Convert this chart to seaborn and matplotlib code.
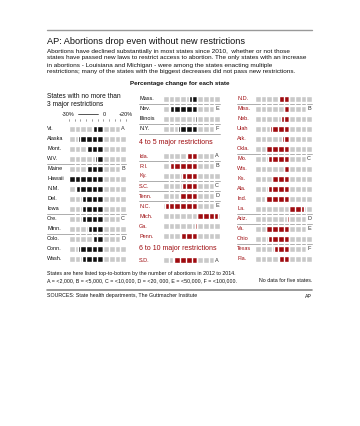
import numpy as np
import pandas as pd
import matplotlib
matplotlib.use("Agg")
import matplotlib.pyplot as plt
import seaborn as sns

# ------------------------------------------------------------
# DATA  (percent change in abortions, 2010 -> 2014)
# ------------------------------------------------------------
low_states = ["Vt.", "Alaska", "Mont.", "W.V.", "Maine", "Hawaii", "N.M.", "Del.",
              "Iowa", "Ore.", "Minn.", "Colo.", "Conn.", "Wash."]
low_change = [-9, -22, -14, -7, -14, -30, -24, -19, -19, -19, -13, -9, -22, -19]
low_group = ["A", "", "", "", "B", "", "", "", "", "C", "", "D", "", ""]

low2_states = ["Mass.", "Nev.", "Illinois", "N.Y."]
low2_change = [-7, -24, -2, -17]
low2_group = ["", "E", "", "F"]

mid_states = ["Ida.", "R.I.", "Ky.", "S.C.", "Tenn.", "N.C.", "Mich.", "Ga.", "Penn."]
mid_change = [-9, -24, -13, -13, -16, -28, 18, -2, -14]
mid_group = ["A", "B", "", "C", "D", "E", "", "", ""]

sd_states = ["S.D."]
sd_change = [-21]
sd_group = ["A"]

high_states = ["N.D.", "Miss.", "Neb.", "Utah", "Ark.", "Okla.", "Mo.", "Wis.", "Ks.",
               "Ala.", "Ind.", "La.", "Ariz.", "Va.", "Ohio", "Texas", "Fla."]
high_change = [-9, -5, -7, -17, -6, -20, -19, -5, -15, -19, -21, 13, -2, -20, -19, -13, -9]
high_group = ["", "B", "", "", "", "", "C", "", "", "", "", "", "D", "E", "", "F", ""]

# ------------------------------------------------------------
# STYLE
# ------------------------------------------------------------
sns.set_theme(style="white")
plt.rcParams['font.family'] = ['Liberation Sans', 'DejaVu Sans']

W, H = 360, 426
BLACK = "#111111"
RED = "#9e0b0f"
GREY = "#c9c9c9"
LINE = "#a0a0a0"
TXT = "#111111"
PITCH = 5.7
ROW = 10

fig = plt.figure(figsize=(W / 100, H / 100), dpi=100)
bg = fig.add_axes([0, 0, 1, 1])
bg.set_xlim(0, W)
bg.set_ylim(H, 0)
bg.axis("off")


def panel(states, change, groups, y_first, label_x, cell_left, color, label_color,
          next_group=None):
    n = len(states)
    top = y_first - ROW / 2
    ax = fig.add_axes([cell_left / W, 1 - (top + n * ROW) / H, 10 * PITCH / W, n * ROW / H])
    df = pd.DataFrame({"state": states, "change": change})
    # grey cells (the group letter takes the last slot)
    span = [45 if g else 50 for g in groups]
    ax.barh(np.arange(n), span, left=-30, height=0.68, color=GREY)
    sns.barplot(data=df, x="change", y="state", order=states, orient="h", color=color,
                saturation=1, width=0.68, errorbar=None, ax=ax)
    for b in range(-25, 20, 5):
        ax.axvline(b, color="white", lw=1.0)
    ax.set_xlim(-30, 20)
    ax.set_ylim(n - 0.5, -0.5)
    ax.axis("off")
    for i, g in enumerate(groups):
        if g:
            ax.text(17.5, i, g, ha="center", va="center", fontsize=4.0, color="#333333")
    for i, s in enumerate(states):
        bg.text(label_x, y_first + i * ROW, s, ha="left", va="center", fontsize=4.0,
                color=label_color)
    # separators between abortion-count groups
    nxt = list(groups[1:]) + [next_group]
    for i, g in enumerate(nxt):
        if g:
            y = y_first + i * ROW + ROW / 2
            bg.plot([label_x, cell_left + 10 * PITCH], [y, y], color=LINE, lw=0.6)
    return ax


# ------------------------------------------------------------
# HEADER TEXT
# ------------------------------------------------------------
bg.plot([47, 312], [30, 30], color="#999999", lw=1.0)
bg.text(47, 41, "AP: Abortions drop even without new restrictions", fontsize=6.6,
        va="center", ha="left", color=TXT)
para = ["Abortions have declined substantially in most states since 2010,  whether or not those",
        "states have passed new laws to restrict access to abortion. The only states with an increase",
        "in abortions - Louisiana and Michigan - were among the states enacting multiple",
        "restrictions; many of the states with the biggest decreases did not pass new restrictions."]
for k, line in enumerate(para):
    bg.text(47, 51 + k * 7, line, fontsize=4.55, va="center", ha="left", color=TXT)
bg.text(180, 84, "Percentage change for each state", fontsize=4.5, fontweight="bold",
        ha="center", va="center", color=TXT)

bg.text(47, 97, "States with no more than", fontsize=4.8, va="center", color=TXT)
bg.text(47, 104, "3 major restrictions", fontsize=4.8, va="center", color=TXT)
bg.text(68, 114, "-30%", fontsize=3.9, ha="center", va="center", color=TXT)
bg.plot([78, 98], [114, 114], color=TXT, lw=0.5)
bg.text(104, 114, "0", fontsize=3.9, ha="center", va="center", color=TXT)
bg.text(126, 114, "+20%", fontsize=3.9, ha="center", va="center", color=TXT)
for k in range(11):
    x = 69 + k * PITCH
    bg.plot([x, x], [119, 121], color="#555555", lw=0.4)

bg.text(139, 142, "4 to 5 major restrictions", fontsize=5.0, va="center", color=RED)
bg.text(139, 248, "6 to 10 major restrictions", fontsize=5.0, va="center", color=RED)

# ------------------------------------------------------------
# PANELS
# ------------------------------------------------------------
panel(low_states, low_change, low_group, 129, 47, 69, BLACK, TXT)
panel(low2_states, low2_change, low2_group, 99, 139, 163, BLACK, TXT, next_group="X")
panel(mid_states, mid_change, mid_group, 156, 139, 163, RED, RED)
panel(sd_states, sd_change, sd_group, 260, 139, 163, RED, RED)
panel(high_states, high_change, high_group, 99, 237, 255, RED, RED)

# ------------------------------------------------------------
# FOOTER
# ------------------------------------------------------------
bg.text(47, 274, "States are here listed top-to-bottom by the number of abortions in 2012 to 2014.",
        fontsize=3.75, va="center", color=TXT)
bg.text(47, 281, "A = <2,000, B = <5,000, C = <10,000, D = <20, 000, E = <50,000, F = <100,000.",
        fontsize=3.75, va="center", color=TXT)
bg.text(312, 281, "No data for five states.", fontsize=3.75, va="center", ha="right", color=TXT)
bg.plot([47, 312], [290, 290], color="#888888", lw=1.2)
bg.text(47, 296, "SOURCES: State health departments, The Guttmacher Institute", fontsize=3.75,
        va="center", color=TXT)
bg.text(312, 296, "AP", fontsize=3.75, va="center", ha="right", color=TXT)

fig.savefig("out.png", dpi=100, facecolor="white")
